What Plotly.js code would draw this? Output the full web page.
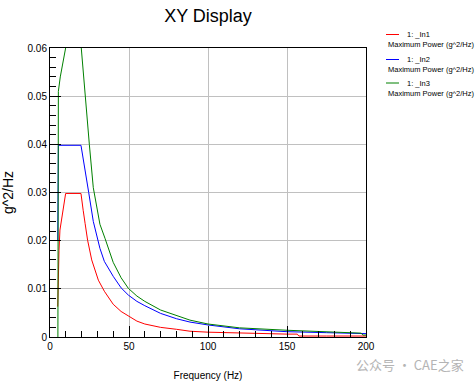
<!DOCTYPE html>
<html>
<head>
<meta charset="utf-8">
<script src="https://cdn.plot.ly/plotly-3.0.1.min.js"></script>
<style>html,body{margin:0;padding:0;background:#fff;}#chart{width:476px;height:384px;}</style>
</head>
<body>
<div id="chart"></div>
<script>
// Series (frequency in Hz, value in g^2/Hz)
const in1Freq = [4.9, 5.3, 5.7, 6.3, 7.4, 8.4, 9.9, 19.6, 20.0, 21.0, 22.2, 23.8, 26.4, 28.5, 30.6, 34.4, 40, 45, 49.6, 55, 60, 70, 80, 88.6, 100, 120, 150, 156.5, 157.5, 175, 200];
const in1Val  = [0.0063, 0.0133, 0.018, 0.0222, 0.0246, 0.0263, 0.0298, 0.0298, 0.0284, 0.0263, 0.0236, 0.0201, 0.016, 0.0137, 0.0118, 0.0095, 0.0068, 0.0053, 0.0043, 0.0033, 0.0027, 0.002, 0.0016, 0.0012, 0.001, 0.0008, 0.0006, 0.0006, 0.0002, 0.0002, 0.0002];

const in2Freq = [4.9, 5.3, 19.6, 21.1, 22.2, 23.2, 24.5, 27.4, 29.5, 31.6, 34.4, 40, 45, 49.6, 55, 60, 70, 80, 88.6, 100, 120, 150, 175, 200];
const in2Val  = [0.020, 0.0398, 0.0398, 0.037, 0.035, 0.033, 0.030, 0.024, 0.0212, 0.0184, 0.0157, 0.0126, 0.0102, 0.0087, 0.0074, 0.0065, 0.0049, 0.0038, 0.0031, 0.0025, 0.0017, 0.0011, 0.0009, 0.0007];

const in3Freq = [5.0, 5.3, 6.5, 8.0, 9.9, 12, 18, 19.8, 22.2, 24.9, 27.4, 31.6, 34.8, 40, 45, 49.6, 55, 60, 70, 80, 88.6, 100, 120, 150, 175, 197, 198, 200];
const in3Val  = [0.0, 0.051, 0.054, 0.057, 0.060, 0.062, 0.062, 0.060, 0.050, 0.040, 0.031, 0.0234, 0.0205, 0.0155, 0.0123, 0.0101, 0.0085, 0.0074, 0.0056, 0.0044, 0.0035, 0.0027, 0.0019, 0.0014, 0.0011, 0.0008, 0.0004, 0.0004];

const seriesNames = ['1: _In1', '1: _In2', '1: _In3'];
const seriesSub = 'Maximum Power (g^2/Hz)';
const seriesColors = ['#ff0000', '#0000ff', '#008000'];
const xTickVals = [0, 50, 100, 150, 200];
const yTickVals = [0, 0.01, 0.02, 0.03, 0.04, 0.05, 0.06];

const xs = [in1Freq, in2Freq, in3Freq];
const ys = [in1Val, in2Val, in3Val];
const traces = xs.map((x, i) => ({
  x: x, y: ys[i], type: 'scatter', mode: 'lines', name: seriesNames[i],
  line: {color: seriesColors[i], width: 1}, showlegend: false, hoverinfo: 'skip'
}));

const FONT = 'Arial, "Liberation Sans", sans-serif';
const shapes = [];
const annotations = [];
const legendTop = [34.5, 59.5, 83];
legendTop.forEach((yy, i) => {
  shapes.push({type: 'line', xref: 'paper', yref: 'paper',
    x0: (386 - 50) / 316, x1: (399 - 50) / 316,
    y0: (337 - yy) / 289, y1: (337 - yy) / 289,
    line: {color: seriesColors[i], width: 1}});
  annotations.push({xref: 'paper', yref: 'paper', x: (405 - 50) / 316, y: (337 - yy) / 289,
    xanchor: 'left', yanchor: 'middle', showarrow: false, text: seriesNames[i],
    font: {family: FONT, size: 7.5, color: '#000'}});
  annotations.push({xref: 'paper', yref: 'paper', x: (386 - 50) / 316, y: (337 - yy - 10) / 289,
    xanchor: 'left', yanchor: 'middle', showarrow: false, text: seriesSub,
    font: {family: FONT, size: 7.5, color: '#000'}});
});
annotations.push({xref: 'paper', yref: 'paper', x: (466 - 50) / 316, y: (337 - 364) / 289,
  xanchor: 'right', yanchor: 'middle', showarrow: false, text: '公众号 · CAE之家',
  font: {family: '"Noto Sans CJK SC", sans-serif', size: 13, color: '#b4b4b4'}});

const layout = {
  width: 476, height: 384,
  margin: {l: 50, r: 110, t: 48, b: 47, pad: 0},
  paper_bgcolor: '#fff', plot_bgcolor: '#fff',
  font: {family: FONT, size: 10, color: '#000'},
  title: {text: 'XY Display', font: {family: FONT, size: 18, color: '#000'},
    x: 0.5, xref: 'paper', xanchor: 'center', y: 1 - 16 / 384, yanchor: 'middle'},
  xaxis: {
    range: [0, 200], tickvals: xTickVals, ticktext: xTickVals.map(String),
    ticks: 'inside', ticklen: 11, tickcolor: '#000', tickwidth: 1,
    showline: true, linecolor: '#000', linewidth: 1, mirror: true,
    showgrid: true, gridcolor: '#c0c0c0', gridwidth: 1, zeroline: false,
    minor: {dtick: 10, ticks: 'inside', ticklen: 6, tickcolor: '#000', showgrid: false},
    tickfont: {family: FONT, size: 10, color: '#000'},
    title: {text: 'Frequency (Hz)', font: {family: FONT, size: 10, color: '#000'}, standoff: 20}
  },
  yaxis: {
    range: [0, 0.06], tickvals: yTickVals, ticktext: yTickVals.map(v => v === 0 ? '0' : v.toFixed(2)),
    ticks: 'inside', ticklen: 11, tickcolor: '#000', tickwidth: 1,
    showline: true, linecolor: '#000', linewidth: 1, mirror: true,
    showgrid: true, gridcolor: '#c0c0c0', gridwidth: 1, zeroline: false,
    minor: {dtick: 0.002, ticks: 'inside', ticklen: 6, tickcolor: '#000', showgrid: false},
    tickfont: {family: FONT, size: 10, color: '#000'},
    title: {text: 'g^2/Hz', font: {family: FONT, size: 14, color: '#000'}, standoff: 10}
  },
  shapes: shapes,
  annotations: annotations,
  showlegend: false
};

Plotly.newPlot('chart', traces, layout, {displayModeBar: false, staticPlot: true});
</script>
</body>
</html>
